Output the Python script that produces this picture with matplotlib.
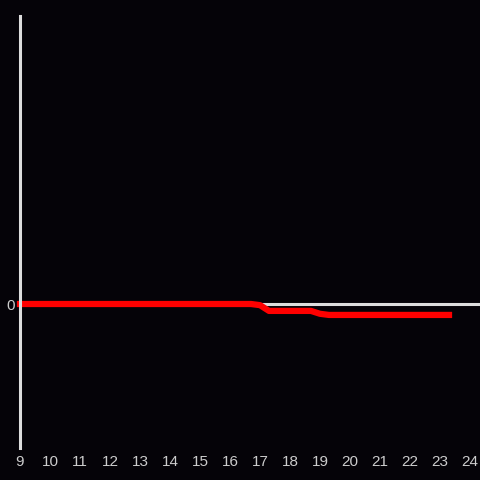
import matplotlib.pyplot as plt

hours = [9, 16.7, 17.0, 17.3, 18.7, 19.0, 19.3, 23.3]
values = [0, 0, -0.4, -2.4, -2.4, -3.4, -3.8, -3.8]
x_ticks = list(range(9, 25))

bg = "#050308"
plt.rcParams["font.family"] = ["Liberation Sans", "DejaVu Sans"]

fig = plt.figure(figsize=(4.8, 4.8), dpi=100, facecolor=bg)
ax = fig.add_axes([20 / 480, 32 / 480, 460 / 480, 432 / 480], facecolor=bg)

ax.axhline(0, color="#dddddd", linewidth=2.2, zorder=1)
ax.plot(hours, values, color="#ff0000", linewidth=4.5,
        solid_joinstyle="round", solid_capstyle="projecting",
        clip_on=False, zorder=5)

ax.set_xlim(9, 24 + 1 / 3)
ax.set_ylim(-50, 100)
ax.set_xticks(x_ticks)
ax.set_xticklabels([str(t) for t in x_ticks])
ax.set_yticks([0])
ax.tick_params(axis="both", length=0, colors="#cccccc", labelsize=11)
ax.tick_params(axis="x", pad=5)
ax.tick_params(axis="y", pad=4)

for side in ["top", "right", "bottom"]:
    ax.spines[side].set_visible(False)
ax.spines["left"].set_color("#dddddd")
ax.spines["left"].set_linewidth(2.2)
ax.spines["left"].set_zorder(6)

fig.savefig("out.png", dpi=100, facecolor=bg)
